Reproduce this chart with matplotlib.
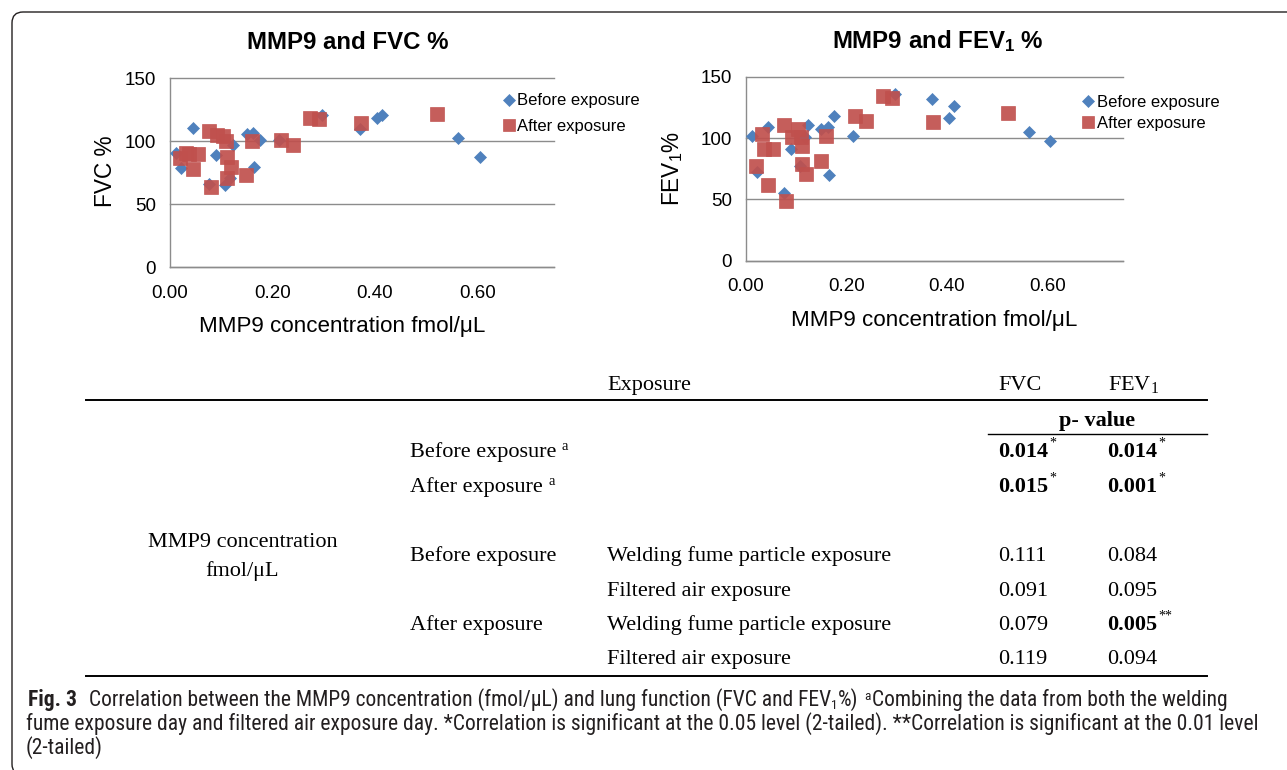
import matplotlib
matplotlib.use("Agg")
import matplotlib.pyplot as plt
from matplotlib.lines import Line2D
from matplotlib.patches import FancyBboxPatch
from matplotlib.transforms import IdentityTransform

# ---------------- data ----------------
series_names = ["Before exposure", "After exposure"]

x_before = [0.012, 0.022, 0.045, 0.077, 0.090, 0.107, 0.118, 0.124, 0.150, 0.163,
            0.165, 0.175, 0.213, 0.297, 0.371, 0.404, 0.415, 0.563, 0.606]
fvc_before = [91, 79, 111, 66, 89, 65, 71, 97, 106, 107,
              80, 101, 101, 121, 110, 119, 121, 103, 88]
fev1_before = [102, 72, 109, 55, 91, 77, 101, 111, 107, 109,
               70, 118, 102, 136, 132, 116, 126, 105, 97.5]

x_after = [0.020, 0.032, 0.037, 0.045, 0.055, 0.077, 0.081, 0.092, 0.104, 0.110,
           0.111, 0.112, 0.119, 0.149, 0.160, 0.217, 0.240, 0.273, 0.291, 0.373, 0.522]
fvc_after = [87, 90.5, 90, 78, 90, 108, 64, 105, 104, 100,
             88, 71, 80, 73, 100, 101, 97, 119, 118, 115, 122]
fev1_after = [77, 103, 91, 62, 91, 110.5, 49, 101, 107, 101,
              93.5, 79, 71, 81, 102, 118, 114, 134, 133, 113, 120]

x_ticks = [0.0, 0.2, 0.4, 0.6]
x_tick_labels = ["0.00", "0.20", "0.40", "0.60"]
y_ticks = [0, 50, 100, 150]

chart_titles = ["MMP9 and FVC %", r"MMP9 and FEV$_\mathbf{1}$ %"]
y_labels = ["FVC %", r"FEV$_\mathsf{1}$%"]
x_label = "MMP9 concentration fmol/μL"

# table
table_header = ["Exposure", "FVC", r"FEV$_\mathrm{1}$"]
pvalue_header = "p- value"
row_group_label = ["MMP9 concentration", "fmol/μL"]
combined_periods = ["Before exposure", "After exposure"]
combined_period_mark = "a"
combined_fvc = ["0.014", "0.015"]
combined_fev1 = ["0.014", "0.001"]
combined_fvc_mark = ["*", "*"]
combined_fev1_mark = ["*", "*"]
split_periods = ["Before exposure", "", "After exposure", ""]
split_exposures = ["Welding fume particle exposure", "Filtered air exposure",
                   "Welding fume particle exposure", "Filtered air exposure"]
split_fvc = ["0.111", "0.091", "0.079", "0.119"]
split_fev1 = ["0.084", "0.095", "0.005", "0.094"]
split_fvc_mark = ["", "", "", ""]
split_fev1_mark = ["", "", "**", ""]

caption_fig = "Fig. 3"
caption_1a = "Correlation between the MMP9 concentration (fmol/μL) and lung function (FVC and FEV"
caption_1b = "%)"
caption_1c = "Combining the data from both the welding"
caption_2 = ("fume exposure day and filtered air exposure day. *Correlation is significant at the "
             "0.05 level (2-tailed). **Correlation is significant at the 0.01 level")
caption_3 = "(2-tailed)"

# ---------------- style ----------------
BLUE = "#4F81BD"
RED = "#C0504D"
GRID = "#8c8c8c"
SANS = ["Liberation Sans", "DejaVu Sans"]
SERIF = ["Liberation Serif", "DejaVu Serif"]
CAPF = ["Liberation Sans Narrow", "Roboto Condensed", "Open Sans Condensed",
        "DejaVu Sans Condensed", "Liberation Sans", "DejaVu Sans"]

plt.rcParams["font.family"] = SANS
plt.rcParams["mathtext.fontset"] = "custom"
plt.rcParams["mathtext.rm"] = "Liberation Serif"
plt.rcParams["mathtext.sf"] = "Liberation Sans"
plt.rcParams["mathtext.bf"] = "Liberation Sans:bold"
plt.rcParams["mathtext.it"] = "Liberation Serif:italic"

W, H = 1287, 770
fig = plt.figure(figsize=(W / 100, H / 100), dpi=100)
fig.patch.set_facecolor("white")
renderer = fig.canvas.get_renderer()


def fx(x):
    return x / W


def fy(y):
    return 1 - y / H


def add_axes_px(l, t, r, b):
    return fig.add_axes([l / W, 1 - b / H, (r - l) / W, (b - t) / H])


def draw_runs(x, y, parts, ha="left", **common):
    objs = []
    cur = x
    for p in parts:
        p = dict(p)
        s = p.pop("s")
        gap = p.pop("gap", 0)
        dy = p.pop("dy", 0)
        cur += gap
        kw = dict(common)
        kw.update(p)
        t = fig.text(fx(cur), fy(y - dy), s, ha="left", va="baseline", **kw)
        cur += t.get_window_extent(renderer=renderer).width
        objs.append(t)
    total = cur - x
    if ha != "left":
        shift = total / 2 if ha == "center" else total
        for t in objs:
            px, py = t.get_position()
            t.set_position((px - shift / W, py))
    return objs, total


def style_axes(ax):
    ax.set_xlim(0, 0.75)
    ax.set_ylim(0, 150)
    ax.set_xticks(x_ticks)
    ax.set_xticklabels(x_tick_labels)
    ax.set_yticks(y_ticks)
    ax.tick_params(axis="both", length=0, labelsize=13.5, colors="black")
    ax.tick_params(axis="x", pad=12.5)
    ax.tick_params(axis="y", pad=10)
    ax.grid(axis="y", color=GRID, lw=1.0)
    ax.grid(axis="x", visible=False)
    for s in ["top", "right"]:
        ax.spines[s].set_visible(False)
    for s in ["left", "bottom"]:
        ax.spines[s].set_color(GRID)
        ax.spines[s].set_linewidth(1.0)
    ax.set_axisbelow(True)
    ax.patch.set_visible(False)
    for gl in ax.get_ygridlines():
        gl.set_clip_on(False)


charts = [
    dict(box=(170, 78.5, 554, 267.3), y_before=fvc_before, y_after=fvc_after,
         title=chart_titles[0], title_x=347.5, ylabel=y_labels[0], ylab_xy=(105, 171.5),
         xlab_x=342, xlab_y=332, leg=(502.3, 93.5), legsp=0.64),
    dict(box=(745.8, 76.7, 1122.5, 260.7), y_before=fev1_before, y_after=fev1_after,
         title=chart_titles[1], title_x=937.5, ylabel=y_labels[1], ylab_xy=(672.8, 168.3),
         xlab_x=933.7, xlab_y=326, leg=(1081.7, 94.5), legsp=0.38),
]

for c in charts:
    ax = add_axes_px(*c["box"])
    style_axes(ax)
    ax.plot(x_before, c["y_before"], ls="none", marker="D", ms=6.4, mfc=BLUE, mec=BLUE,
            mew=0.5, zorder=3, label=series_names[0])
    ax.plot(x_after, c["y_after"], ls="none", marker="s", ms=9.8, mfc=RED, mec=RED,
            mew=0.5, alpha=0.92, zorder=4, label=series_names[1])
    ax.legend(loc="upper left", bbox_to_anchor=(fx(c["leg"][0]), fy(c["leg"][1])),
              bbox_transform=fig.transFigure, frameon=False, fontsize=12,
              handlelength=0.8, handletextpad=0.09, labelspacing=c["legsp"],
              borderpad=0, borderaxespad=0, markerscale=0.95)
    fig.text(fx(c["title_x"]), fy(49), c["title"], ha="center", va="baseline",
             fontsize=17.3, weight="bold")
    fig.text(fx(c["xlab_x"]), fy(c["xlab_y"]), x_label, ha="center", va="baseline",
             fontsize=16.1)
    fig.text(fx(c["ylab_xy"][0]), fy(c["ylab_xy"][1]), c["ylabel"], ha="center",
             va="center", rotation=90, fontsize=16.3)

# ---------------- table ----------------
TS = 16.0
SUP = 10.0
tkw = dict(family=SERIF, fontsize=TS, color="black")

X_GROUP = 242.5
X_PERIOD = 410
X_EXPO = 607
X_FVC = 998
X_FEV = 1107.5

fig.add_artist(Line2D([fx(86), fx(1207)], [fy(400), fy(400)], transform=fig.transFigure,
                      color="black", lw=1.4))
fig.add_artist(Line2D([fx(988), fx(1207)], [fy(434), fy(434)], transform=fig.transFigure,
                      color="black", lw=1.0))
fig.add_artist(Line2D([fx(86), fx(1207)], [fy(676), fy(676)], transform=fig.transFigure,
                      color="black", lw=1.4))

fig.text(fx(X_EXPO), fy(390), table_header[0], ha="left", va="baseline", **tkw)
fig.text(fx(X_FVC), fy(390), table_header[1], ha="left", va="baseline", **tkw)
fig.text(fx(X_FEV), fy(390), table_header[2], ha="left", va="baseline", **tkw)
fig.text(fx(1097), fy(426), pvalue_header, ha="center", va="baseline", weight="bold", **tkw)

fig.text(fx(X_GROUP), fy(546.7), row_group_label[0], ha="center", va="baseline", **tkw)
fig.text(fx(X_GROUP), fy(576), row_group_label[1], ha="center", va="baseline", **tkw)


def value_cell(x, y, val, mark):
    parts = [dict(s=val, weight="bold" if mark else "normal")]
    if mark:
        parts.append(dict(s=mark, fontsize=SUP, dy=10, gap=1))
    draw_runs(x, y, parts, family=SERIF, fontsize=TS, color="black")


comb_y = [457, 492]
for i, period in enumerate(combined_periods):
    y = comb_y[i]
    draw_runs(X_PERIOD, y, [dict(s=period), dict(s=combined_period_mark, fontsize=SUP + 0.5,
                                                  dy=6.7, gap=5.5)],
              family=SERIF, fontsize=TS, color="black")
    value_cell(X_FVC, y, combined_fvc[i], combined_fvc_mark[i])
    value_cell(X_FEV, y, combined_fev1[i], combined_fev1_mark[i])

split_y = [561, 596, 630, 664]
for i in range(len(split_exposures)):
    y = split_y[i]
    if split_periods[i]:
        fig.text(fx(X_PERIOD), fy(y), split_periods[i], ha="left", va="baseline", **tkw)
    fig.text(fx(X_EXPO), fy(y), split_exposures[i], ha="left", va="baseline", **tkw)
    value_cell(X_FVC, y, split_fvc[i], split_fvc_mark[i])
    value_cell(X_FEV, y, split_fev1[i], split_fev1_mark[i])

# ---------------- caption ----------------
CAPC = "#231f20"


def build_caption(size):
    sp = 0.26 * size * 100 / 72
    small = size * 0.62
    objs = []
    o, w1 = draw_runs(28, 706, [
        dict(s=caption_fig, weight="bold"),
        dict(s=caption_1a, gap=2.2 * sp),
        dict(s="1", fontsize=small, dy=-3),
        dict(s=caption_1b, gap=0.5),
        dict(s="a", fontsize=small, dy=5.5, gap=sp),
        dict(s=caption_1c, gap=0.8),
    ], family=CAPF, fontsize=size, color=CAPC)
    objs += o
    o, w2 = draw_runs(26, 730, [dict(s=caption_2)], family=CAPF, fontsize=size, color=CAPC)
    objs += o
    o, _ = draw_runs(26, 754, [dict(s=caption_3)], family=CAPF, fontsize=size, color=CAPC)
    objs += o
    return objs, w1 + w2


objs, wsum = build_caption(13)
for o in objs:
    o.remove()
build_caption(13 * (1217 + 1211) / wsum)

# ---------------- frame ----------------
frame = FancyBboxPatch((12, -5), 1300, 763, boxstyle="round,pad=0,rounding_size=11",
                       transform=IdentityTransform(), fill=False, ec=CAPC, lw=1.0)
fig.add_artist(frame)

fig.savefig("out.png", dpi=100, facecolor="white")
